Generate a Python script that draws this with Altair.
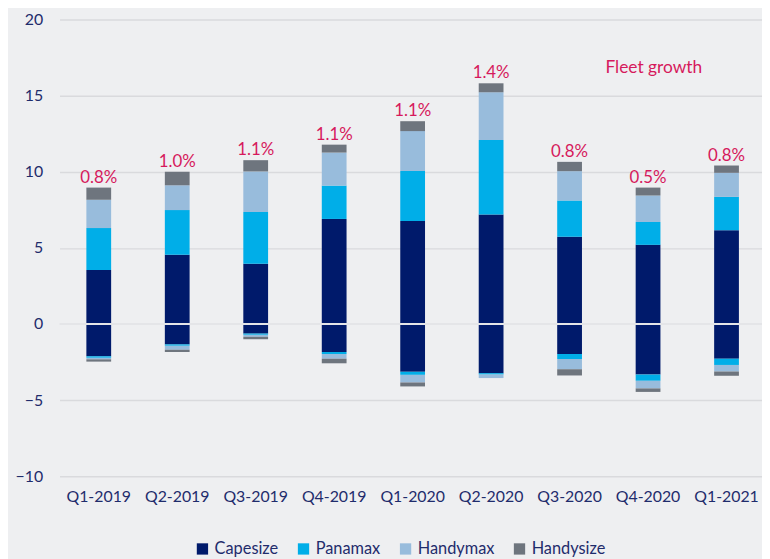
import altair as alt
import pandas as pd

quarters = ["Q1-2019", "Q2-2019", "Q3-2019", "Q4-2019", "Q1-2020",
            "Q2-2020", "Q3-2020", "Q4-2020", "Q1-2021"]
series = ["Capesize", "Panamax", "Handymax", "Handysize"]
colors = ["#001a6b", "#00aee8", "#98bcdc", "#6e757e"]

# deliveries (positive) and removals (negative), million dwt
cape_pos = [3.55, 4.55, 3.95, 6.90, 6.77, 7.20, 5.73, 5.20, 6.16]
pan_pos = [2.75, 2.93, 3.40, 2.19, 3.28, 4.88, 2.38, 1.50, 2.19]
hmax_pos = [1.86, 1.63, 2.67, 2.17, 2.62, 3.14, 1.93, 1.74, 1.58]
hsize_pos = [0.80, 0.89, 0.74, 0.52, 0.65, 0.59, 0.61, 0.52, 0.48]
cape_neg = [-2.12, -1.34, -0.63, -1.84, -3.14, -3.23, -1.97, -3.32, -2.28]
pan_neg = [-0.10, -0.09, -0.08, -0.13, -0.20, -0.09, -0.33, -0.41, -0.41]
hmax_neg = [-0.10, -0.26, -0.13, -0.31, -0.50, -0.23, -0.67, -0.50, -0.43]
hsize_neg = [-0.15, -0.15, -0.16, -0.30, -0.26, 0.00, -0.41, -0.23, -0.28]
growth = ["0.8%", "1.0%", "1.1%", "1.1%", "1.1%", "1.4%", "0.8%", "0.5%", "0.8%"]

pos = [cape_pos, pan_pos, hmax_pos, hsize_pos]
neg = [cape_neg, pan_neg, hmax_neg, hsize_neg]

rows = []
for si, s in enumerate(series):
    for qi, q in enumerate(quarters):
        rows.append({"quarter": q, "series": s, "value": pos[si][qi], "ord": si})
        if neg[si][qi] != 0:
            rows.append({"quarter": q, "series": s, "value": neg[si][qi], "ord": si})
df = pd.DataFrame(rows)

tot = pd.DataFrame({
    "quarter": quarters,
    "total": [sum(p[i] for p in pos) for i in range(len(quarters))],
    "label": growth,
})

FONT = "Lato"
NAVY = "#1f2c6c"
RED = "#d6195c"

xenc = alt.X("quarter:N", sort=quarters, title=None,
             scale=alt.Scale(paddingInner=0.5, paddingOuter=0.226, align=0.553),
             axis=alt.Axis(labelAngle=0, domain=False, ticks=False, labelPadding=12,
                           labelFontSize=16, labelColor=NAVY, labelFont=FONT, grid=False))
yscale = alt.Scale(domain=[-10, 20], nice=False, zero=True)

bars = alt.Chart(df).mark_bar(size=25).encode(
    x=xenc,
    y=alt.Y("value:Q", stack="zero", scale=yscale, title=None,
            axis=alt.Axis(values=[-10, -5, 0, 5, 10, 15, 20], domain=False, ticks=False,
                          labelPadding=17, labelFontSize=16, labelColor=NAVY, labelFont=FONT,
                          gridColor="#d9dadd", gridWidth=1.5)),
    color=alt.Color("series:N", scale=alt.Scale(domain=series, range=colors),
                    legend=alt.Legend(title=None, orient="none", direction="horizontal",
                                      legendX=136, legendY=526, symbolType="square",
                                      symbolSize=130, symbolStrokeWidth=0,
                                      labelFontSize=16.5, labelColor=NAVY, labelFont=FONT,
                                      columnPadding=17, labelOffset=4)),
    order=alt.Order("ord:Q", sort="ascending"),
)

zero = alt.Chart(pd.DataFrame({"y": [0]})).mark_rule(color="#e4e5e8", strokeWidth=2).encode(
    y=alt.Y("y:Q", scale=yscale))

labels = alt.Chart(tot).mark_text(fontSize=17, font=FONT, color=RED, baseline="middle", dy=-10).encode(
    x=alt.X("quarter:N", sort=quarters),
    y=alt.Y("total:Q", scale=yscale),
    text="label:N",
)

note = alt.Chart(pd.DataFrame({"t": ["Fleet growth"]})).mark_text(
    fontSize=17.5, font=FONT, color=RED, align="left", baseline="middle").encode(
    x=alt.value(551), y=alt.value(49), text="t:N")

chart = alt.layer(bars, zero, labels, note).properties(
    width=709, height=461,
    background="#eeeff1",
    padding={"left": 52, "top": 9, "right": 0, "bottom": 92},
    autosize=alt.AutoSizeParams(type="none"),
).configure_view(stroke=None)

chart.save("out.html", embed_options={"renderer": "svg", "actions": False})
